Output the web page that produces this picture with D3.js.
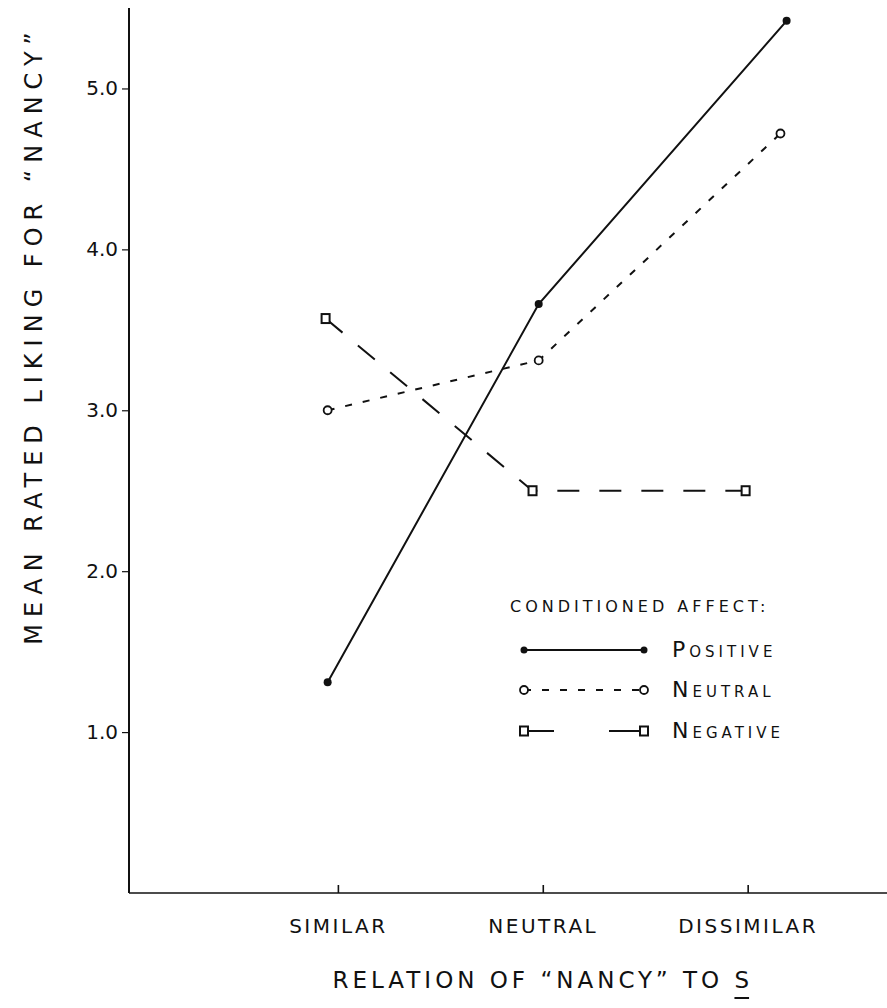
<!DOCTYPE html>
<html><head><meta charset="utf-8">
<script src="https://cdn.jsdelivr.net/npm/d3@7"></script>
<style>
html,body{margin:0;padding:0;background:#fff;}
svg{display:block;}
text{font-family:"DejaVu Sans",sans-serif;fill:#111;}
</style></head>
<body>
<svg id="chart" width="887" height="1008"></svg>
<script>
// ---- data ----
const categories = ["SIMILAR", "NEUTRAL", "DISSIMILAR"];
const categoryPos = [1, 2, 3];
const yTicks = [1, 2, 3, 4, 5];
const yTickLabels = ["1.0", "2.0", "3.0", "4.0", "5.0"];
const seriesNames = ["POSITIVE", "NEUTRAL", "NEGATIVE"];
const positiveX = [0.95, 1.98, 3.19];
const positiveY = [1.31, 3.66, 5.42];
const neutralX = [0.95, 1.98, 3.16];
const neutralY = [3.00, 3.31, 4.72];
const negativeX = [0.94, 1.95, 2.99];
const negativeY = [3.57, 2.50, 2.50];

const svg = d3.select("#chart");
const x = d3.scaleLinear().domain([0, 3.68]).range([133, 887]);
const y = d3.scaleLinear().domain([0, 5.5]).range([893, 8]);
const ink = "#111";

// axes
const yAxis = d3.axisLeft(y).tickValues(yTicks).tickFormat((d,i)=>yTickLabels[i]).tickSize(7).tickPadding(4);
const gy = svg.append("g").attr("transform", `translate(${x(0)-4},0)`).call(yAxis);
gy.select(".domain").attr("stroke", ink).attr("stroke-width", 2).attr("d", `M0,${y(5.5)}V${y(0)}`);
gy.selectAll(".tick line").attr("stroke", ink).attr("stroke-width", 1.2);
gy.selectAll(".tick text").attr("font-size", 20).attr("fill", ink).attr("font-family", "DejaVu Sans");

const xAxis = d3.axisBottom(x).tickValues(categoryPos).tickFormat((d,i)=>categories[i]).tickSize(-8).tickPadding(22);
const gx = svg.append("g").attr("transform", `translate(0,${y(0)})`).call(xAxis);
gx.select(".domain").attr("stroke", ink).attr("stroke-width", 1.6).attr("d", `M${x(0)-4},0H887`);
gx.selectAll(".tick line").attr("stroke", ink).attr("stroke-width", 1.6);
gx.selectAll(".tick text").attr("font-size", 20).attr("fill", ink).attr("letter-spacing", 2.5).attr("font-family", "DejaVu Sans").attr("dy", "0.9em");

// axis titles
svg.append("text").attr("transform", `translate(42,335) rotate(-90)`)
  .attr("text-anchor", "middle").attr("font-size", 24).attr("letter-spacing", 7)
  .text("MEAN  RATED  LIKING  FOR \u201CNANCY\u201D");
const xt = svg.append("text").attr("x", x(2.0)).attr("y", 988).attr("text-anchor", "middle")
  .attr("font-size", 23).attr("letter-spacing", 4)
  .text("RELATION  OF \u201CNANCY\u201D  TO  S");
const xn = xt.node();
const lastBox = xn.getExtentOfChar(xn.getNumberOfChars() - 1);
svg.append("line").attr("x1", lastBox.x).attr("x2", lastBox.x + lastBox.width - 4)
  .attr("y1", 998).attr("y2", 998).attr("stroke", ink).attr("stroke-width", 2);

// series
const line = d3.line().x(d=>x(d[0])).y(d=>y(d[1]));
const pos = positiveX.map((v,i)=>[v, positiveY[i]]);
const neu = neutralX.map((v,i)=>[v, neutralY[i]]);
const neg = negativeX.map((v,i)=>[v, negativeY[i]]);

svg.append("path").datum(pos).attr("d", line).attr("fill","none").attr("stroke", ink).attr("stroke-width", 2);
svg.append("path").datum(neu).attr("d", line).attr("fill","none").attr("stroke", ink).attr("stroke-width", 2).attr("stroke-dasharray","7,11");
svg.append("path").datum(neg).attr("d", line).attr("fill","none").attr("stroke", ink).attr("stroke-width", 2).attr("stroke-dasharray","22,20");

svg.selectAll(".pdot").data(pos).join("circle").attr("cx", d=>x(d[0])).attr("cy", d=>y(d[1])).attr("r", 4).attr("fill", ink);
svg.selectAll(".ndot").data(neu).join("circle").attr("cx", d=>x(d[0])).attr("cy", d=>y(d[1])).attr("r", 4).attr("fill", "#fff").attr("stroke", ink).attr("stroke-width", 1.8);
svg.selectAll(".gsq").data(neg).join("rect").attr("x", d=>x(d[0])-4).attr("y", d=>y(d[1])-4.5).attr("width", 8).attr("height", 9).attr("fill", "#fff").attr("stroke", ink).attr("stroke-width", 2);

// legend
const lg = svg.append("g").attr("transform", "translate(510,0)");
lg.append("text").attr("x", 0).attr("y", 612).attr("font-size", 16).attr("letter-spacing", 4).text("CONDITIONED AFFECT:");
const legY = [650, 690, 731];
const dashes = [null, "7,11", "30,55,35"];
legY.forEach((ly, i) => {
  const l = lg.append("line").attr("x1", 14).attr("x2", 134).attr("y1", ly).attr("y2", ly).attr("stroke", ink).attr("stroke-width", 2);
  if (dashes[i]) l.attr("stroke-dasharray", dashes[i]);
  [14, 134].forEach(cx => {
    if (i === 0) lg.append("circle").attr("cx", cx).attr("cy", ly).attr("r", 3.5).attr("fill", ink);
    else if (i === 1) lg.append("circle").attr("cx", cx).attr("cy", ly).attr("r", 4).attr("fill", "#fff").attr("stroke", ink).attr("stroke-width", 1.8);
    else lg.append("rect").attr("x", cx-4).attr("y", ly-4.5).attr("width", 8).attr("height", 9).attr("fill", "#fff").attr("stroke", ink).attr("stroke-width", 2);
  });
  const t = lg.append("text").attr("x", 162).attr("y", ly + 7).attr("letter-spacing", 4);
  t.append("tspan").attr("font-size", 22).text(seriesNames[i][0]);
  t.append("tspan").attr("font-size", 15).text(seriesNames[i].slice(1));
});
</script>
</body></html>
